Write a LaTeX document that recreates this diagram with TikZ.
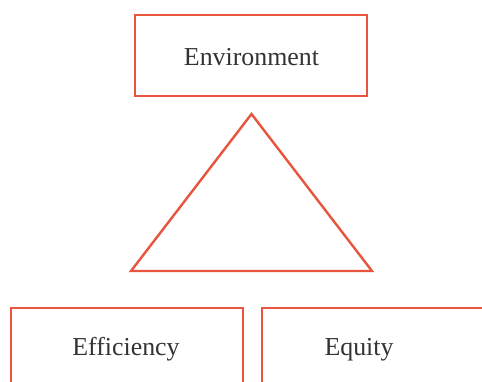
\documentclass[tikz,border=0pt]{standalone}
\usepackage{fontspec}
\setmainfont{Liberation Serif}
\definecolor{boxred}{HTML}{E8553F}
\definecolor{txtgray}{HTML}{333333}
\begin{document}
\begin{tikzpicture}[x=0.75pt,y=-0.75pt,
  boxshape/.style={draw=boxred, line width=1.8pt, rectangle, inner sep=0pt, minimum width=174pt},
  lbl/.style={text=txtgray, font=\fontsize{19.4pt}{22pt}\selectfont, inner sep=0pt, anchor=base}]
\useasboundingbox (0,0) rectangle (482,382);
\clip (0,0) rectangle (482,382);
\fill[white] (0,0) rectangle (482,382);
% top box
\node[boxshape, minimum height=60.75pt] (envbox) at (251,55.5) {};
\node[lbl] (env) at (251.5,65) {Environment};
% triangle
\coordinate (apex) at (251.5,114);
\coordinate (bl) at (131,271);
\coordinate (br) at (372,271);
\draw[boxred, line width=1.8pt, line join=miter] (apex) -- (bl) -- (br) -- cycle;
% bottom boxes (cut off by the page)
\node[boxshape, anchor=north west, minimum height=90pt] (effbox) at (10,307) {};
\node[lbl] (eff) at (126,355) {Efficiency};
\node[boxshape, anchor=north west, minimum height=90pt] (equbox) at (261,307) {};
\node[lbl] (equ) at (359,355) {Equity};
\end{tikzpicture}
\end{document}
